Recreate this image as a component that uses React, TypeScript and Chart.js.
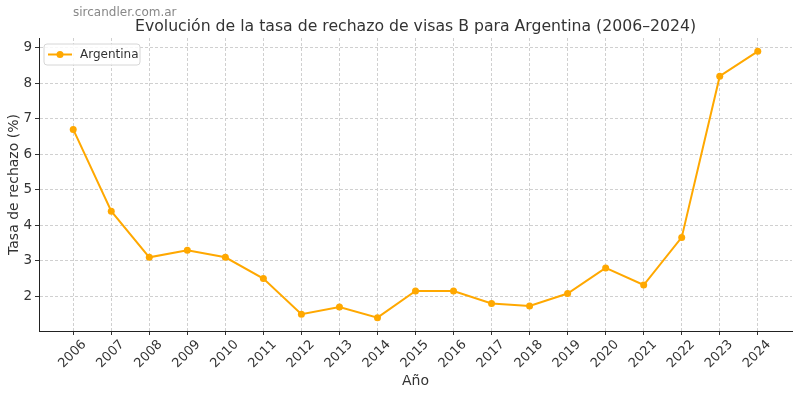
import React, { useEffect, useRef } from "react";
import { Chart, registerables } from "chart.js";

Chart.register(...registerables);

const years = [2006, 2007, 2008, 2009, 2010, 2011, 2012, 2013, 2014, 2015, 2016, 2017, 2018, 2019, 2020, 2021, 2022, 2023, 2024];
const rates = [6.7, 4.4, 3.1, 3.3, 3.1, 2.5, 1.5, 1.7, 1.4, 2.15, 2.15, 1.8, 1.73, 2.08, 2.8, 2.32, 3.66, 8.2, 8.9];
const yTicks = [2, 3, 4, 5, 6, 7, 8, 9];
const seriesName = "Argentina";
const titleText = "Evolución de la tasa de rechazo de visas B para Argentina (2006–2024)";
const watermark = "sircandler.com.ar";
const xTitle = "Año";
const yTitle = "Tasa de rechazo (%)";

const FONT = "'DejaVu Sans', sans-serif";
const LINE = "#FFA800";
const TEXT = "#333333";

const overlay = {
  id: "overlay",
  afterDraw(chart: any) {
    const ctx = chart.ctx;
    const ca = chart.chartArea;
    ctx.save();
    // watermark
    ctx.font = `12px ${FONT}`;
    ctx.fillStyle = "#888888";
    ctx.textAlign = "left";
    ctx.textBaseline = "middle";
    ctx.fillText(watermark, 73, 13);
    // title
    ctx.font = `15.7px ${FONT}`;
    ctx.fillStyle = TEXT;
    ctx.textAlign = "center";
    ctx.fillText(titleText, (ca.left + ca.right) / 2, 27);
    // legend
    const bx = ca.left + 5, by = ca.top + 6, bw = 96, bh = 21;
    ctx.beginPath();
    const r = 3;
    ctx.moveTo(bx + r, by);
    ctx.arcTo(bx + bw, by, bx + bw, by + bh, r);
    ctx.arcTo(bx + bw, by + bh, bx, by + bh, r);
    ctx.arcTo(bx, by + bh, bx, by, r);
    ctx.arcTo(bx, by, bx + bw, by, r);
    ctx.closePath();
    ctx.fillStyle = "rgba(255,255,255,0.85)";
    ctx.fill();
    ctx.strokeStyle = "#d6d6d6";
    ctx.lineWidth = 1;
    ctx.stroke();
    const ly = by + bh / 2;
    ctx.beginPath();
    ctx.moveTo(bx + 4, ly);
    ctx.lineTo(bx + 28, ly);
    ctx.strokeStyle = LINE;
    ctx.lineWidth = 2;
    ctx.stroke();
    ctx.beginPath();
    ctx.arc(bx + 16, ly, 3.5, 0, Math.PI * 2);
    ctx.fillStyle = LINE;
    ctx.fill();
    ctx.font = `12px ${FONT}`;
    ctx.fillStyle = TEXT;
    ctx.textAlign = "left";
    ctx.fillText(seriesName, bx + 36, ly);
    ctx.restore();
  },
};

export default function App() {
  const ref = useRef<HTMLCanvasElement>(null);
  useEffect(() => {
    const chart = new Chart(ref.current!, {
      type: "line",
      data: {
        datasets: [
          {
            label: seriesName,
            data: years.map((x, i) => ({ x, y: rates[i] })),
            borderColor: LINE,
            backgroundColor: LINE,
            borderWidth: 2,
            pointRadius: 3.5,
            pointBorderWidth: 0,
            pointBackgroundColor: LINE,
            tension: 0,
          },
        ],
      },
      options: {
        animation: false,
        responsive: false,
        devicePixelRatio: 1,
        layout: { padding: { top: 38, right: 8, left: 0, bottom: 0 } },
        plugins: { legend: { display: false }, title: { display: false }, tooltip: { enabled: false } },
        scales: {
          x: {
            type: "linear",
            min: 2005.1,
            max: 2024.9,
            afterBuildTicks: (s: any) => {
              s.ticks = years.map((v) => ({ value: v }));
            },
            afterFit: (s: any) => {
              s.height = 64;
            },
            ticks: {
              autoSkip: false,
              minRotation: 45,
              maxRotation: 45,
              labelOffset: 11,
              padding: 2,
              color: TEXT,
              font: { family: FONT, size: 13 },
              callback: (v: any) => String(v),
            },
            grid: { color: "#d0d0d0", tickColor: "#333333", tickLength: 4, tickBorderDash: [] },
            border: { display: true, color: "#222222", width: 1, dash: [3, 2] },
            title: { display: true, text: xTitle, color: TEXT, font: { family: FONT, size: 14 }, padding: { top: 4, bottom: 5 } },
          },
          y: {
            type: "linear",
            min: 1.025,
            max: 9.275,
            afterBuildTicks: (s: any) => {
              s.ticks = yTicks.map((v) => ({ value: v }));
            },
            afterFit: (s: any) => {
              s.width = 39;
            },
            ticks: { color: TEXT, font: { family: FONT, size: 13.5 }, padding: 3 },
            grid: { color: "#d0d0d0", tickColor: "#333333", tickLength: 4, tickBorderDash: [] },
            border: { display: true, color: "#222222", width: 1, dash: [3, 2] },
            title: { display: true, text: yTitle, color: TEXT, font: { family: FONT, size: 14 }, padding: { top: 6, bottom: 0 } },
          },
        },
      },
      plugins: [overlay],
    } as any);
    return () => chart.destroy();
  }, []);
  return (
    <div style={{ position: "absolute", left: 0, top: 0, width: 800, height: 395, background: "#fff" }}>
      <canvas ref={ref} width={800} height={395} />
    </div>
  );
}
